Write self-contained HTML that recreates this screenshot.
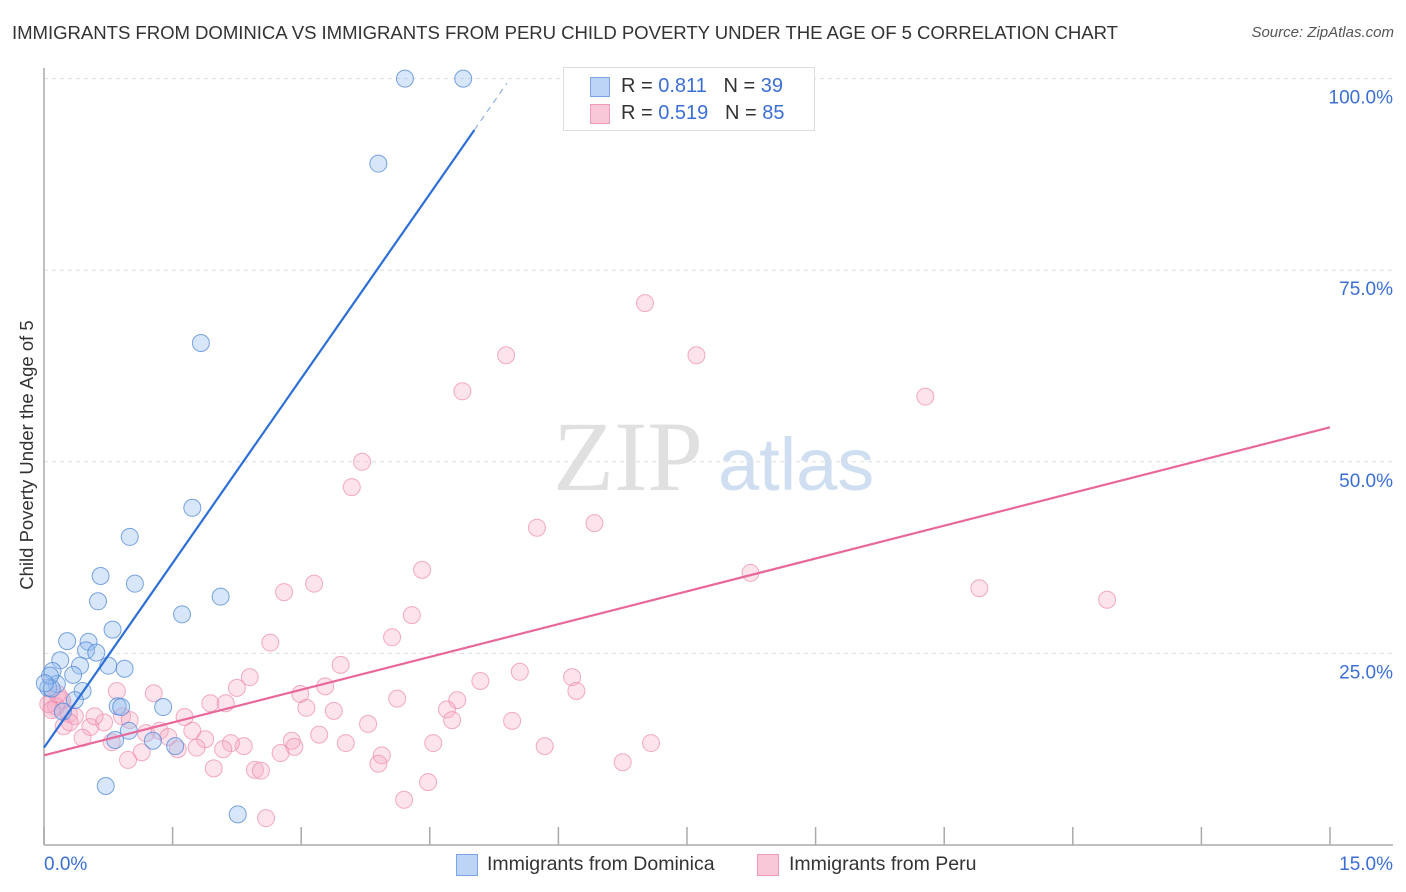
<!DOCTYPE html>
<html><head><meta charset="utf-8"><style>
body{margin:0;background:#fff;font-family:"Liberation Sans",sans-serif;}
#wrap{position:relative;width:1406px;height:892px;overflow:hidden;}
.t{position:absolute;white-space:nowrap;}
</style></head><body>
<div id="wrap">
<div class="t" style="left:12px;top:22px;font-size:18.6px;color:#333;letter-spacing:-0.05px;">IMMIGRANTS FROM DOMINICA VS IMMIGRANTS FROM PERU CHILD POVERTY UNDER THE AGE OF 5 CORRELATION CHART</div>
<div class="t" style="right:12px;top:24px;font-size:15px;color:#555;font-style:italic;">Source: ZipAtlas.com</div>
<div class="t" style="left:27px;top:455px;font-size:18.5px;color:#333;transform:translate(-50%,-50%) rotate(-90deg);">Child Poverty Under the Age of 5</div>
<svg id="svg" width="1406" height="892" style="position:absolute;left:0;top:0"></svg>
<div style="position:absolute;left:563px;top:67px;width:250px;height:62px;border:1px solid #ddd;background:#fff;font-size:20px;color:#333;">
 <div style="position:absolute;left:26px;top:9px;width:18px;height:18px;background:#bcd4f6;border:1px solid #7aa6e6;"></div>
 <div class="t" style="left:57px;top:7px;">R = <span style="color:#3b6fd6">0.811</span>&nbsp;&nbsp;&nbsp;N = <span style="color:#3b6fd6">39</span></div>
 <div style="position:absolute;left:26px;top:36px;width:18px;height:18px;background:#f8c8d8;border:1px solid #ee9ab8;"></div>
 <div class="t" style="left:57px;top:34px;">R = <span style="color:#3b6fd6">0.519</span>&nbsp;&nbsp;&nbsp;N = <span style="color:#3b6fd6">85</span></div>
</div>
<div>
 <div style="position:absolute;left:456px;top:854px;width:20px;height:20px;background:#bcd4f6;border:1px solid #7aa6e6;"></div>
 <div class="t" style="left:487px;top:853px;font-size:19.5px;color:#333;">Immigrants from Dominica</div>
 <div style="position:absolute;left:757px;top:854px;width:20px;height:20px;background:#f8c8d8;border:1px solid #ee9ab8;"></div>
 <div class="t" style="left:789px;top:853px;font-size:19.5px;color:#333;">Immigrants from Peru</div>
</div>
</div>
<script>
const xTicksVal=[0,1.5,3,4.5,6,7.5,9,10.5,12,13.5,15];
const yTicks=[25,50,75,100];
const yTickLabels=["25.0%","50.0%","75.0%","100.0%"];
const xEndLabels=["0.0%","15.0%"];
const domX=[4.21,4.89,3.90,1.83,1.73,1.00,0.66,1.06,0.63,2.06,1.61,0.80,0.27,0.52,0.49,0.61,0.19,0.42,0.75,0.94,0.10,0.34,0.15,0.05,0.09,0.45,0.36,0.86,0.90,1.39,0.22,0.99,0.83,1.27,1.53,0.72,2.26,0.07,0.01];
const domY=[100,100,88.9,65.5,44.0,40.2,35.1,34.1,31.8,32.4,30.1,28.1,26.6,26.5,25.4,25.1,24.1,23.4,23.4,23.0,22.7,22.2,21.0,20.5,20.4,20.1,18.9,18.1,18.0,18.0,17.4,14.9,13.7,13.6,12.9,7.7,4.0,22.1,21.1];
const peruX=[7.01,5.39,7.61,4.88,10.28,3.71,3.59,5.75,6.42,4.41,8.24,10.91,12.40,3.15,2.80,4.29,2.64,4.06,3.46,2.40,5.09,5.55,6.16,6.21,2.25,3.28,2.99,1.28,0.85,4.82,4.12,1.94,3.06,4.70,2.12,4.76,5.46,1.64,3.38,3.78,0.91,0.29,0.70,0.54,1.00,1.73,1.19,1.35,1.45,3.21,1.88,2.89,0.45,0.79,4.54,3.52,1.56,2.92,2.33,2.18,1.78,2.09,5.84,7.08,1.14,2.76,3.94,0.98,3.90,1.98,6.75,2.46,2.53,4.48,4.20,2.59,0.21,0.14,0.23,0.05,0.09,0.36,0.59,0.30,0.16];
const peruY=[70.7,63.9,63.9,59.2,58.5,50.0,46.7,41.4,42.0,35.9,35.5,33.5,32.0,34.1,33.0,30.0,26.4,27.1,23.5,21.9,21.4,22.6,21.9,20.1,20.5,20.7,19.7,19.8,20.1,18.9,19.1,18.5,17.9,17.7,18.5,16.3,16.2,16.7,17.5,15.8,16.8,17.1,16.0,15.4,16.3,14.9,14.6,14.9,14.1,14.4,13.8,13.6,14.0,13.4,13.3,13.3,12.5,12.8,12.9,13.3,12.7,12.5,12.9,13.3,12.1,12.0,11.7,11.1,10.6,10.0,10.8,9.8,9.7,8.2,5.9,3.5,18.9,18.1,15.5,18.4,17.6,16.8,16.8,16.0,19.7];
const domLine=[0,12.7,5.02,93.3,5.40];
const peruLine=[0,11.7,15,54.5];
const X=v=>44+v*(1286/15);
const Y=v=>845-v*7.664;
const NS="http://www.w3.org/2000/svg";
const svg=document.getElementById('svg');
function mk(tag,attrs,parent){const e=document.createElementNS(NS,tag);for(const k in attrs)e.setAttribute(k,attrs[k]);(parent||svg).appendChild(e);return e;}
let wm=mk('text',{x:553,y:490,'font-size':100,'font-family':'Liberation Serif,serif',fill:'#e0e0e0'});


wm.textContent='ZIP';
let wm2=mk('text',{x:718,y:490,'font-size':74,'font-family':'Liberation Sans,sans-serif',fill:'#d0def2'});


wm2.textContent='atlas';
yTicks.forEach((v,i)=>{
 let g=mk('line',{x1:44,x2:1393,y1:Y(v),y2:Y(v),stroke:'#ddd','stroke-dasharray':'4,4'});
 
 
 let t=mk('text',{x:1393,y:Y(v)+25,'text-anchor':'end','font-size':19,fill:'#3b6fd6','font-family':'Liberation Sans,sans-serif'});
 
 
 t.textContent=yTickLabels[i];
});
let ax=mk('line',{x1:44,x2:1393,y1:845,y2:845,stroke:'#aaa','stroke-width':1.5});


let ay=mk('line',{x1:44,x2:44,y1:68,y2:845,stroke:'#aaa','stroke-width':1.5});


xTicksVal.forEach(v=>{
 let t=mk('line',{x1:X(v),x2:X(v),y1:827,y2:845,stroke:'#aaa','stroke-width':1.5});
 
 
});
[[X(0),'start'],[1393,'end']].forEach((p,i)=>{
 let t=mk('text',{x:p[0],y:870,'text-anchor':p[1],'font-size':19,fill:'#3b6fd6','font-family':'Liberation Sans,sans-serif'});
 
 
 t.textContent=xEndLabels[i];
});
let big=mk('circle',{cx:X(0.15),cy:Y(18.5),r:15,fill:'rgba(244,160,190,0.35)'});


peruX.forEach((v,i)=>{
 let c=mk('circle',{cx:X(v),cy:Y(peruY[i]),r:8.5,fill:'rgba(246,170,196,0.33)',stroke:'rgba(236,130,166,0.65)','stroke-width':1});
 
 
});
domX.forEach((v,i)=>{
 let c=mk('circle',{cx:X(v),cy:Y(domY[i]),r:8.5,fill:'rgba(150,190,240,0.38)',stroke:'rgba(80,135,215,0.75)','stroke-width':1});
 
 
});
let pl=mk('line',{x1:X(peruLine[0]),y1:Y(peruLine[1]),x2:X(peruLine[2]),y2:Y(peruLine[3]),stroke:'#e8689a','stroke-width':2.2});


let dl=mk('line',{x1:X(domLine[0]),y1:Y(domLine[1]),x2:X(domLine[2]),y2:Y(domLine[3]),stroke:'#2d6fd6','stroke-width':2.2});


const sl=(domLine[3]-domLine[1])/(domLine[2]-domLine[0]);
let dd=mk('line',{x1:X(domLine[2]),y1:Y(domLine[3]),x2:X(domLine[4]),y2:Y(domLine[1]+sl*domLine[4]),stroke:'#8fb2e8','stroke-width':1.2,'stroke-dasharray':'6,5'});


</script>
</body></html>
